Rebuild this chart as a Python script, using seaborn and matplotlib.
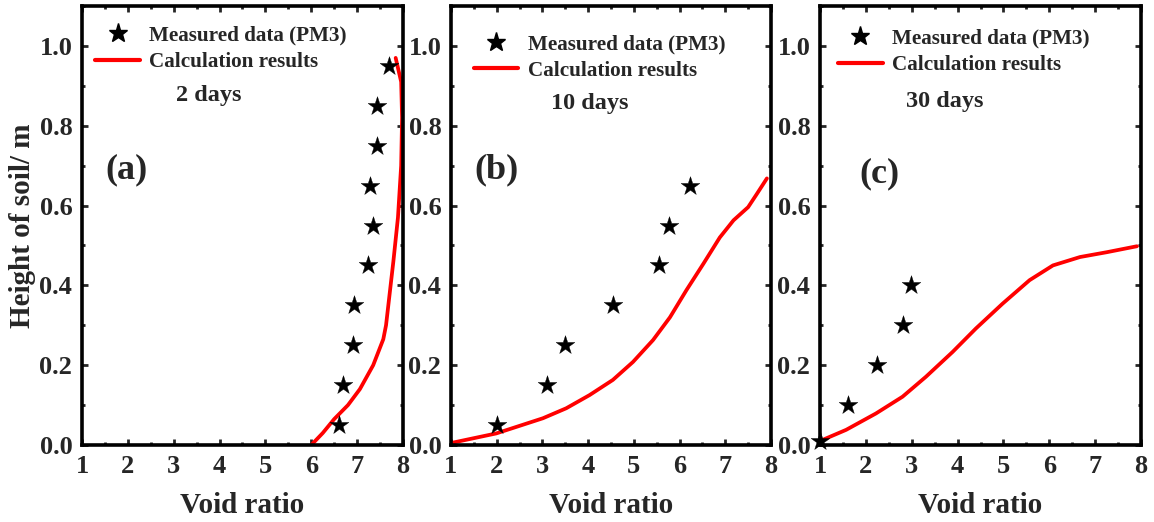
import numpy as np
import pandas as pd
import matplotlib
matplotlib.use("Agg")
import matplotlib.pyplot as plt
from matplotlib.lines import Line2D
from matplotlib.ticker import MultipleLocator, FormatStrFormatter
import seaborn as sns

# Measured void ratio profiles (PM3) at each time
meas_a_x = [7.70, 7.44, 7.43, 7.28, 7.35, 7.23, 6.93, 6.90, 6.70, 6.61]
meas_a_y = [0.95, 0.85, 0.75, 0.65, 0.55, 0.45, 0.35, 0.25, 0.15, 0.05]
meas_b_x = [2.00, 3.10, 3.50, 4.54, 5.55, 5.77, 6.23]
meas_b_y = [0.05, 0.15, 0.25, 0.35, 0.45, 0.55, 0.65]
meas_c_x = [1.00, 1.60, 2.25, 2.82, 2.98]
meas_c_y = [0.01, 0.10, 0.20, 0.30, 0.40]

# Calculated profiles
calc_a_x = [6.00, 6.25, 6.50, 6.80, 7.06, 7.35, 7.57, 7.63, 7.70, 7.79, 7.89, 7.96, 7.98, 7.96, 7.84]
calc_a_y = [0.00, 0.03, 0.065, 0.10, 0.14, 0.20, 0.265, 0.30, 0.37, 0.46, 0.57, 0.70, 0.82, 0.91, 0.97]
calc_b_x = [1.00, 1.99, 3.01, 3.52, 4.03, 4.54, 4.98, 5.42, 5.79, 6.15, 6.52, 6.88, 7.18, 7.50, 7.69, 7.91]
calc_b_y = [0.005, 0.029, 0.067, 0.092, 0.125, 0.163, 0.208, 0.263, 0.32, 0.388, 0.454, 0.52, 0.563, 0.596, 0.629, 0.668]
calc_c_x = [1.00, 1.57, 2.22, 2.80, 3.31, 3.89, 4.40, 4.98, 5.57, 6.08, 6.67, 7.25, 7.91]
calc_c_y = [0.01, 0.038, 0.079, 0.121, 0.171, 0.233, 0.292, 0.354, 0.413, 0.45, 0.471, 0.483, 0.498]

panel_tags = ["(a)", "(b)", "(c)"]
day_labels = ["2 days", "10 days", "30 days"]
legend_labels = ["Measured data (PM3)", "Calculation results"]

sns.set_style("ticks")
plt.rcParams["font.family"] = ["Liberation Serif", "DejaVu Serif"]
plt.rcParams["font.weight"] = "bold"
plt.rcParams["axes.labelweight"] = "bold"

fig = plt.figure(figsize=(11.54, 5.22), dpi=100)
W, H = 1154, 522
boxes = [(82, 403), (451, 771), (820, 1141)]
top, bottom = 6, 445

panels = [
    (meas_a_x, meas_a_y, calc_a_x, calc_a_y),
    (meas_b_x, meas_b_y, calc_b_x, calc_b_y),
    (meas_c_x, meas_c_y, calc_c_x, calc_c_y),
]
tag_pos = [(1.98, 0.69), (2.0, 0.69), (2.3, 0.68)]
day_pos = [(3.77, 0.875), (4.04, 0.855), (3.72, 0.86)]
leg_anchor = [(0.042, 0.955), (0.072, 0.935), (0.057, 0.948)]

for i, ((l, r), (mx, my, cx, cy)) in enumerate(zip(boxes, panels)):
    ax = fig.add_axes([l / W, (H - bottom) / H, (r - l) / W, (bottom - top) / H])
    calc = pd.DataFrame({"e": cx, "h": cy})
    meas = pd.DataFrame({"e": mx, "h": my})
    sns.lineplot(data=calc, x="e", y="h", sort=False, estimator=None,
                 color="#ff0000", linewidth=2.7, ax=ax, zorder=2)
    sns.scatterplot(data=meas, x="e", y="h", marker="*", s=200, color="black",
                    edgecolor="black", linewidth=0.3, ax=ax, zorder=3, clip_on=False)

    ax.set_xlim(1, 8)
    ax.set_ylim(0, 1.1)
    ax.xaxis.set_major_locator(MultipleLocator(1))
    ax.xaxis.set_minor_locator(MultipleLocator(0.5))
    ax.yaxis.set_major_locator(MultipleLocator(0.2))
    ax.yaxis.set_minor_locator(MultipleLocator(0.1))
    ax.yaxis.set_major_formatter(FormatStrFormatter("%.1f"))
    ax.tick_params(which="both", direction="in", top=True, right=True, width=2.0)
    ax.tick_params(which="major", length=4.5, labelsize=19, pad=7)
    ax.tick_params(which="minor", length=2.3)
    for sp in ax.spines.values():
        sp.set_linewidth(2.6)
        sp.set_color("black")

    ax.set_xlabel("Void ratio", fontsize=21, fontweight="bold", labelpad=10)
    if i == 0:
        ax.set_ylabel("Height of soil/ m", fontsize=21, fontweight="bold", labelpad=2.5)
    else:
        ax.set_ylabel("")

    ax.text(*tag_pos[i], panel_tags[i], fontsize=26, fontweight="bold",
            ha="center", va="center")
    ax.text(*day_pos[i], day_labels[i], fontsize=17.5, fontweight="bold",
            ha="center", va="center")

    handles = [
        Line2D([], [], linestyle="none", marker="*", markersize=14, color="black"),
        Line2D([], [], color="#ff0000", linewidth=3),
    ]
    ax.legend(handles, legend_labels, loc="upper left", bbox_to_anchor=leg_anchor[i],
              frameon=False, handlelength=2.1, handletextpad=0.45,
              labelspacing=0.3, borderpad=0, borderaxespad=0,
              prop={"weight": "bold", "size": 15.2})

fig.savefig("out.png", dpi=100, facecolor="white")
